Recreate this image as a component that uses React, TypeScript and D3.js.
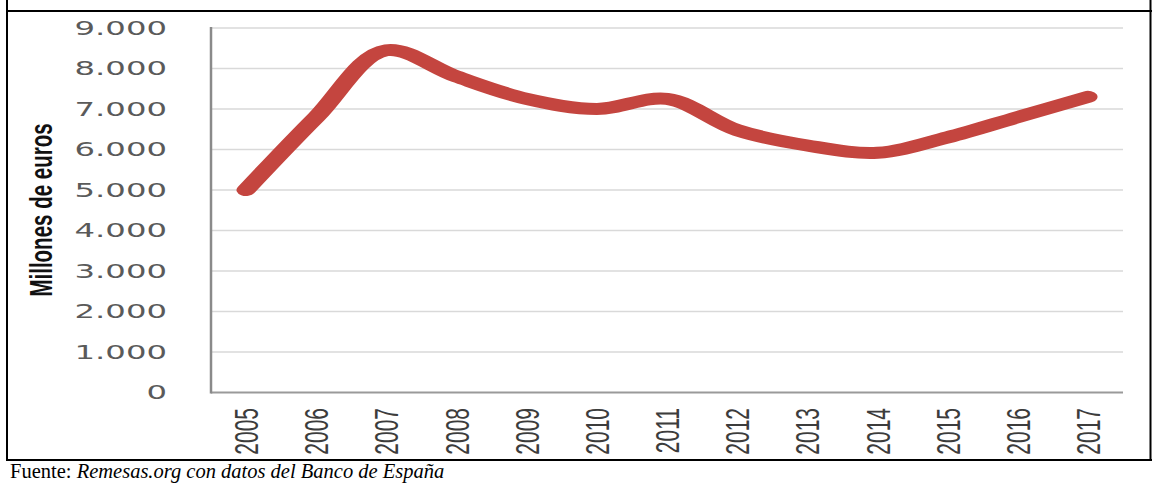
import React from "react";
import * as d3 from "d3";

const years = ["2005","2006","2007","2008","2009","2010","2011","2012","2013","2014","2015","2016","2017"];
const remesas = [5000, 6800, 8450, 7800, 7250, 7000, 7250, 6480, 6100, 5920, 6300, 6800, 7300];
const yTicks = [0, 1000, 2000, 3000, 4000, 5000, 6000, 7000, 8000, 9000];
const yTickLabels = ["0", "1.000", "2.000", "3.000", "4.000", "5.000", "6.000", "7.000", "8.000", "9.000"];
const yTitle = "Millones de euros";
const sourcePrefix = "Fuente: ";
const sourceText = "Remesas.org con datos del Banco de España";

const W = 1152, H = 483;
const PL = 211, PR = 1123, PT = 28, PB = 392.5;
const SX = 1.6;

export default function App() {
  const x = d3.scaleBand<string>().domain(years).range([PL, PR]).padding(0);
  const y = d3.scaleLinear().domain([0, 9000]).range([PB, PT]);
  const cx = (d: string) => (x(d) as number) + x.bandwidth() / 2;
  const line = d3
    .line<number>()
    .x((_, i) => cx(years[i]) / SX)
    .y((v) => y(v))
    .curve(d3.curveCatmullRom.alpha(0.5));

  return (
    <svg width={W} height={H} style={{ position: "absolute", left: 0, top: 0, background: "#fff" }}>
      {/* gridlines */}
      {yTicks.slice(1).map((t) => (
        <line key={t} x1={PL} x2={PR} y1={y(t)} y2={y(t)} stroke="#d9d9d9" strokeWidth={1.5} />
      ))}
      {/* axes */}
      <line x1={PL} x2={PR} y1={PB} y2={PB} stroke="#9a9a9a" strokeWidth={2} />
      <line x1={PL} x2={PL} y1={PT - 1} y2={PB + 1} stroke="#8a8a8a" strokeWidth={2.5} />
      {/* line */}
      <g transform={`scale(${SX},1)`}>
        <path d={line(remesas) || ""} fill="none" stroke="#c4453f" strokeWidth={12} strokeLinecap="round" strokeLinejoin="round" />
      </g>
      {/* y tick labels */}
      {yTicks.map((t, i) => (
        <text
          key={t}
          transform={`translate(167,${y(t)}) scale(1.7,1)`}
          dy="0.36em"
          textAnchor="end"
          fontFamily="DejaVu Sans, Verdana, sans-serif"
          fontSize={19}
          fill="#5a5a5a"
        >
          {yTickLabels[i]}
        </text>
      ))}
      {/* x labels */}
      {years.map((yr) => (
        <text
          key={yr}
          transform={`translate(${cx(yr)},408) scale(1.6,1) rotate(-90)`}
          dy="0.36em"
          textAnchor="end"
          fontFamily="Liberation Sans, Arial, sans-serif"
          fontSize={21}
          fill="#3c3c3c"
        >
          {yr}
        </text>
      ))}
      {/* y title */}
      <text
        transform={`translate(41,210) scale(1.5,1) rotate(-90)`}
        dy="0.36em"
        textAnchor="middle"
        fontFamily="Liberation Sans, Arial, sans-serif"
        fontWeight="bold"
        fontSize={20.5}
        fill="#111"
      >
        {yTitle}
      </text>
      {/* border */}
      <line x1={7} x2={7} y1={0} y2={461} stroke="#000" strokeWidth={2} />
      <line x1={6} x2={W} y1={11} y2={11} stroke="#000" strokeWidth={2} />
      <line x1={6} x2={W} y1={460} y2={460} stroke="#000" strokeWidth={2} />
      <line x1={1150.5} x2={1150.5} y1={0} y2={461} stroke="#000" strokeWidth={2} />
      {/* source */}
      <text x={10} y={478} fontFamily="Liberation Serif, Times New Roman, serif" fontSize={20.5} fill="#000">
        {sourcePrefix}
        <tspan fontStyle="italic">{sourceText}</tspan>
      </text>
    </svg>
  );
}
